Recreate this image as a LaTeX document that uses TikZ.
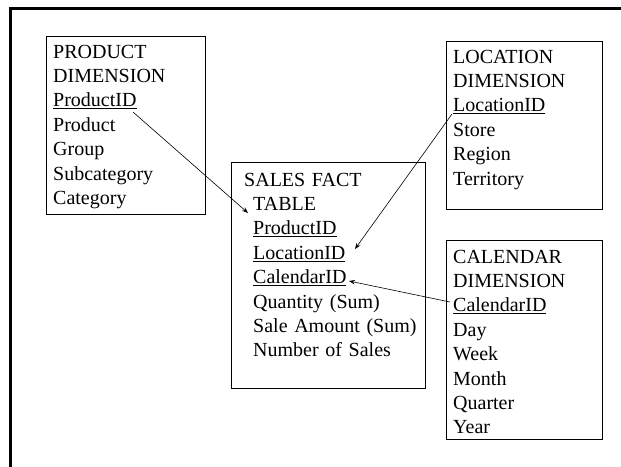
\documentclass[tikz,border=0pt]{standalone}
\usepackage{fontspec}
\setmainfont{Liberation Serif}
\usetikzlibrary{arrows.meta}
\newcommand\indt{\hspace*{9pt}}
\begin{document}
\begin{tikzpicture}[x=1pt,y=-1pt,
  box/.style={draw, line width=0.8pt, inner sep=0pt, anchor=north west},
  txt/.style={anchor=base west, inner sep=0pt, align=left, text width=200pt,
    font=\fontsize{20}{24.4}\selectfont},
  link/.style={line width=0.6pt, -{Stealth[length=6pt,width=4.5pt]}},
  frame/.style={line width=3pt}]
\useasboundingbox (0,0) rectangle (621,466);
\draw[frame] (10,480) -- (10,8) -- (640,8);

% boxes
\node[box, minimum width=159.5pt, minimum height=178.5pt] (prod) at (45.5,35.5) {};
\node[box, minimum width=194.5pt, minimum height=226pt] (sales) at (230.5,162) {};
\node[box, minimum width=156pt, minimum height=168.5pt] (loc) at (446,40.5) {};
\node[box, minimum width=156pt, minimum height=199pt] (cal) at (446,240) {};

% texts
\node[txt] (prodt) at (53,58) {PRODUCT\\DIMENSION\\\underline{ProductID}\\Product\\Group\\Subcategory\\Category};
\node[txt] (salest) at (244,186) {SALES FACT\\\indt TABLE\\\indt\underline{ProductID}\\\indt\underline{LocationID}\\\indt\underline{CalendarID}\\\indt Quantity (Sum)\\\indt Sale Amount (Sum)\\\indt Number of Sales};
\node[txt] (loct) at (453,63) {LOCATION\\DIMENSION\\\underline{LocationID}\\Store\\Region\\Territory};
\node[txt] (calt) at (453,263) {CALENDAR\\DIMENSION\\\underline{CalendarID}\\Day\\Week\\Month\\Quarter\\Year};

% connector end points
\coordinate (pidEnd) at (133,112);
\coordinate (tableTip) at (248,213);
\coordinate (lidStart) at (452,114);
\coordinate (lidTip) at (355,249);
\coordinate (cidStart) at (450,302);
\coordinate (cidTip) at (349,281);

\draw[link] (pidEnd) -- (tableTip);
\draw[link] (lidStart) -- (lidTip);
\draw[link] (cidStart) -- (cidTip);
\end{tikzpicture}
\end{document}
